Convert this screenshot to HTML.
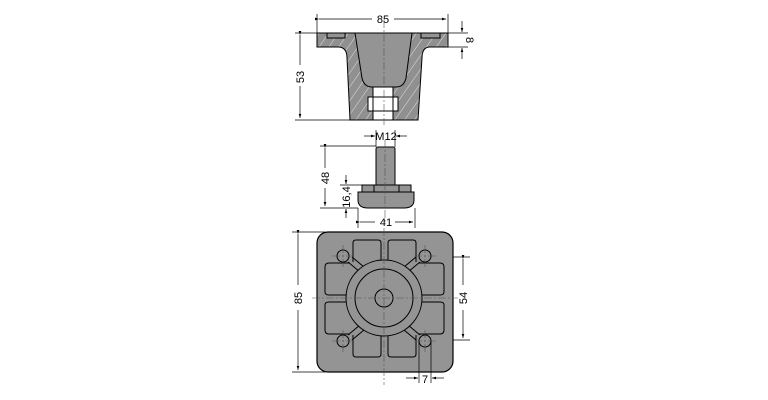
<!DOCTYPE html>
<html><head><style>html,body{margin:0;padding:0;background:#fff}svg{display:block}</style></head>
<body>
<svg width="768" height="400" viewBox="0 0 768 400" xmlns="http://www.w3.org/2000/svg" font-family="Liberation Sans, sans-serif">
<defs>
<pattern id="h" width="8" height="8" patternUnits="userSpaceOnUse" patternTransform="rotate(35)">
<rect width="8" height="8" fill="#909090"/><line x1="0" y1="0" x2="0" y2="8" stroke="#e0e0e0" stroke-width="1"/></pattern>
<marker id="a" markerWidth="6" markerHeight="6" refX="6" refY="3" orient="auto"><path d="M0,1 L6,3 L0,5z" fill="#000"/></marker>
</defs>
<g stroke="#000" stroke-width="1">
<path d="M317,33 H448 V47 H430 Q422,47 422,58 L418,120 H350 L347,58 Q347,47 338,47 H317Z" fill="url(#h)"/>
<path d="M355,33 H412 L406,78 Q404,87 396,87 H372 Q364,87 362,78Z" fill="#949494"/>
<rect x="327" y="33" width="18" height="5" fill="#949494"/>
<rect x="421" y="33" width="19" height="5" fill="#949494"/>
<rect x="373" y="87" width="20" height="33" fill="#fff"/>
<rect x="368" y="97" width="30" height="14" fill="#fff"/>
<line x1="373" y1="97" x2="373" y2="111"/><line x1="393" y1="97" x2="393" y2="111"/>
<rect x="376" y="147" width="19" height="40" rx="2" fill="#949494"/>
<rect x="362" y="185" width="49" height="7" fill="#949494"/>
<line x1="374" y1="185" x2="374" y2="192"/><line x1="399" y1="185" x2="399" y2="192"/>
<path d="M358,192 H414 V200 Q414,208 404,208 H368 Q358,208 358,200Z" fill="#949494"/>
<rect x="317" y="232" width="136" height="140" rx="11" fill="#949494" stroke-width="1.2"/>
<g fill="none">
<path d="M381,276 V243 Q381,240 378,240 H356 Q353,240 353,243 V262"/>
<path d="M388,276 V243 Q388,240 391,240 H413 Q416,240 416,243 V262"/>
<path d="M381,320 V354 Q381,357 378,357 H356 Q353,357 353,354 V335"/>
<path d="M388,320 V354 Q388,357 391,357 H413 Q416,357 416,354 V335"/>
<path d="M350,263 H329 Q325,263 325,267 V292 Q325,295 329,295 H360"/>
<path d="M350,334 H329 Q325,334 325,330 V305 Q325,302 329,302 H360"/>
<path d="M418,263 H440 Q444,263 444,267 V292 Q444,295 440,295 H408"/>
<path d="M418,334 H440 Q444,334 444,330 V305 Q444,302 440,302 H408"/>
<path d="M348,262 L360,272 M352,257 L364,267"/>
<path d="M420,262 L408,272 M416,257 L404,267"/>
<path d="M348,335 L360,325 M352,340 L364,330"/>
<path d="M420,335 L408,325 M416,340 L404,330"/>
</g>
<circle cx="384" cy="298" r="38" fill="#949494"/>
<circle cx="384" cy="298" r="29" fill="#949494"/>
<circle cx="384" cy="298" r="9" fill="#949494"/>
<circle cx="343" cy="256" r="6" fill="#949494"/>
<circle cx="425" cy="256" r="6" fill="#949494"/>
<circle cx="343" cy="341" r="6" fill="#949494"/>
<circle cx="425" cy="341" r="6" fill="#949494"/>
</g>
<g stroke="#555" stroke-width="0.6" stroke-dasharray="8,2,2,2" fill="none">
<line x1="384" y1="20" x2="384" y2="125"/><line x1="385" y1="140" x2="385" y2="222"/>
<line x1="384" y1="228" x2="384" y2="385"/><line x1="312" y1="298" x2="458" y2="298"/>
<line x1="332" y1="256" x2="354" y2="256"/><line x1="343" y1="245" x2="343" y2="267"/>
<line x1="414" y1="256" x2="436" y2="256"/><line x1="425" y1="245" x2="425" y2="267"/>
<line x1="332" y1="341" x2="354" y2="341"/><line x1="343" y1="330" x2="343" y2="352"/>
<line x1="414" y1="341" x2="436" y2="341"/><line x1="425" y1="330" x2="425" y2="352"/>
</g>
<g stroke="#000" stroke-width="0.7" fill="none">
<line x1="317" y1="14" x2="317" y2="33"/><line x1="448" y1="14" x2="448" y2="33"/>
<line x1="319" y1="19" x2="372" y2="19" marker-start="url(#a)"/><line x1="394" y1="19" x2="446" y2="19" marker-end="url(#a)"/>
<line x1="295" y1="33" x2="317" y2="33"/><line x1="295" y1="120" x2="350" y2="120"/>
<line x1="300" y1="35" x2="300" y2="65" marker-start="url(#a)"/><line x1="300" y1="86" x2="300" y2="118" marker-end="url(#a)"/>
<line x1="448" y1="33" x2="468" y2="33"/><line x1="448" y1="47" x2="468" y2="47"/>
<line x1="462" y1="21" x2="462" y2="32" marker-end="url(#a)"/><line x1="462" y1="59" x2="462" y2="48" marker-end="url(#a)"/>
<line x1="376" y1="130" x2="376" y2="147"/><line x1="395" y1="130" x2="395" y2="147"/>
<line x1="364" y1="136" x2="375" y2="136" marker-end="url(#a)"/><line x1="407" y1="136" x2="396" y2="136" marker-end="url(#a)"/>
<line x1="320" y1="146" x2="376" y2="146"/><line x1="320" y1="208" x2="358" y2="208"/>
<line x1="325" y1="148" x2="325" y2="168" marker-start="url(#a)"/><line x1="325" y1="188" x2="325" y2="206" marker-end="url(#a)"/>
<line x1="340" y1="185" x2="362" y2="185"/>
<line x1="346" y1="175" x2="346" y2="184" marker-end="url(#a)"/><line x1="346" y1="218" x2="346" y2="209" marker-end="url(#a)"/>
<line x1="358" y1="208" x2="358" y2="228"/><line x1="415" y1="208" x2="415" y2="228"/>
<line x1="360" y1="222" x2="375" y2="222" marker-start="url(#a)"/><line x1="395" y1="222" x2="413" y2="222" marker-end="url(#a)"/>
<line x1="292" y1="232" x2="325" y2="232"/><line x1="292" y1="372" x2="325" y2="372"/>
<line x1="298" y1="234" x2="298" y2="285" marker-start="url(#a)"/><line x1="298" y1="310" x2="298" y2="370" marker-end="url(#a)"/>
<line x1="453" y1="257" x2="470" y2="257"/><line x1="453" y1="340" x2="470" y2="340"/>
<line x1="463" y1="259" x2="463" y2="285" marker-start="url(#a)"/><line x1="463" y1="310" x2="463" y2="338" marker-end="url(#a)"/>
<line x1="419" y1="341" x2="419" y2="383"/><line x1="431" y1="341" x2="431" y2="383"/>
<line x1="406" y1="378" x2="418" y2="378" marker-end="url(#a)"/><line x1="444" y1="378" x2="432" y2="378" marker-end="url(#a)"/>
</g>
<g font-size="11" fill="#000" text-anchor="middle">
<text x="383" y="23">85</text>
<text x="386" y="140">M12</text>
<text x="386" y="226">41</text>
<text x="425" y="383">7</text>
<text transform="translate(304,77) rotate(-90)">53</text>
<text transform="translate(466,40) rotate(90)">8</text>
<text transform="translate(329,178) rotate(-90)">48</text>
<text transform="translate(350,197) rotate(-90)">16,4</text>
<text transform="translate(302,298) rotate(-90)">85</text>
<text transform="translate(467,298) rotate(-90)">54</text>
</g>
</svg>
</body></html>
